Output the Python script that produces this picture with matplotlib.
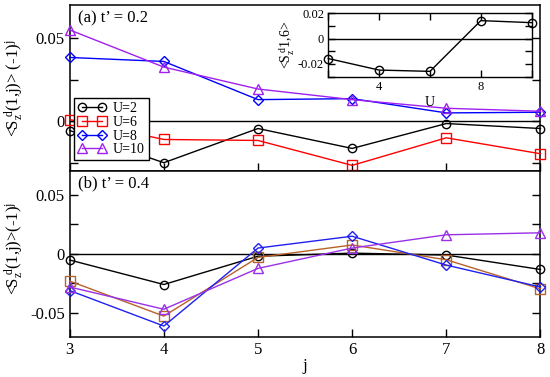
import matplotlib
matplotlib.use("Agg")
import matplotlib.pyplot as plt
from matplotlib.ticker import MultipleLocator

plt.rcParams["font.family"] = ["Liberation Serif", "DejaVu Serif"]
plt.rcParams["mathtext.fontset"] = "custom"
plt.rcParams["mathtext.rm"] = "Liberation Serif"
plt.rcParams["mathtext.it"] = "Liberation Serif:italic"

# site index j
j = [3, 4, 5, 6, 7, 8]

# panel (a) t' = 0.2
top_u2 = [-0.0056, -0.0250, -0.0044, -0.0164, -0.0014, -0.0044]
top_u6 = [0.0010, -0.0110, -0.0116, -0.0266, -0.0100, -0.0196]
top_u8 = [0.0384, 0.0360, 0.0130, 0.0136, 0.0050, 0.0054]
top_u10 = [0.0550, 0.0326, 0.0194, 0.0130, 0.0078, 0.0060]

# panel (b) t' = 0.4
bot_u2 = [-0.0052, -0.0259, -0.0020, 0.0006, -0.0010, -0.0132]
bot_u6 = [-0.0230, -0.0526, -0.0030, 0.0075, -0.0050, -0.0296]
bot_u8 = [-0.0310, -0.0610, 0.0049, 0.0149, -0.0095, -0.0280]
bot_u10 = [-0.0280, -0.0468, -0.0123, 0.0049, 0.0161, 0.0178]

# inset: <S_z^d 1,6> versus U
inset_u = [2, 4, 6, 8, 10]
inset_s16 = [-0.0157, -0.0248, -0.0258, 0.0142, 0.0126]

labels = ["U=2", "U=6", "U=8", "U=10"]
markers = ["o", "s", "D", "^"]
msizes = [6, 6.5, 5.5, 7]
top_colors = ["black", "#ff0000", "#0000ff", "#a020f0"]
bot_colors = ["black", "#b8622a", "#2020f0", "#9a30e8"]

fig = plt.figure(figsize=(5.5, 3.77), dpi=100)
ax1 = fig.add_axes([0.1267, 0.5464, 0.856, 0.4403])
ax2 = fig.add_axes([0.1267, 0.1069, 0.856, 0.4395])


def zero_fmt(v, p):
    return "0" if abs(v) < 1e-9 else f"{v:g}"


def draw(ax, series, colors):
    for ys, lab, m, ms, c in zip(series, labels, markers, msizes, colors):
        ax.plot(j, ys, color=c, lw=1.0, marker=m, ms=ms, mfc="none",
                mec=c, mew=1.0, label=lab, clip_on=False, zorder=3)
    ax.axhline(0, color="black", lw=1.0, zorder=2)
    ax.set_xlim(3, 8)
    ax.xaxis.set_major_locator(MultipleLocator(1))
    ax.yaxis.set_major_locator(MultipleLocator(0.05))
    ax.yaxis.set_minor_locator(MultipleLocator(0.025))
    ax.tick_params(which="both", direction="in", right=True, top=False,
                   length=6, width=1.0, labelsize=12)
    for s in ax.spines.values():
        s.set_linewidth(1.1)
    ax.yaxis.set_major_formatter(plt.FuncFormatter(zero_fmt))


draw(ax1, [top_u2, top_u6, top_u8, top_u10], top_colors)
draw(ax2, [bot_u2, bot_u6, bot_u8, bot_u10], bot_colors)

ax1.set_ylim(-0.03, 0.07)
ax1.tick_params(labelbottom=False)
ax2.set_ylim(-0.07, 0.07)
ax2.set_xlabel("j", fontsize=12, labelpad=0)

ax1.set_ylabel(r"<S$_\mathrm{z}^{\ \mathrm{d}}$(1,j)> (-1)$^\mathrm{j}$", fontsize=12)
ax2.set_ylabel(r"<S$_\mathrm{z}^{\ \mathrm{d}}$(1,j)>(-1)$^\mathrm{j}$", fontsize=12)
ax1.yaxis.set_label_coords(-0.092, 0.5)
ax2.yaxis.set_label_coords(-0.092, 0.53)

ax1.text(0.018, 0.97, "(a) t\u2019 = 0.2", transform=ax1.transAxes,
         fontsize=12, va="top", ha="left")
ax2.text(0.018, 0.975, "(b) t\u2019 = 0.4", transform=ax2.transAxes,
         fontsize=12, va="top", ha="left")

leg = ax1.legend(loc="upper left", bbox_to_anchor=(0.009, 0.44),
                 borderaxespad=0, numpoints=2, handlelength=2.0,
                 handletextpad=0.5, labelspacing=0.05, borderpad=0.3,
                 fontsize=10, fancybox=False, framealpha=1)
leg.get_frame().set_edgecolor("black")
leg.get_frame().set_linewidth(1.0)

# inset
axi = fig.add_axes([0.5969, 0.7966, 0.3698, 0.1682])
axi.plot(inset_u, inset_s16, color="black", lw=1.0, marker="o", ms=6,
         mfc="none", mec="black", mew=1.0, clip_on=False, zorder=3)
axi.axhline(0, color="black", lw=1.0)
axi.set_xlim(2, 10)
axi.set_ylim(-0.03, 0.02)
axi.xaxis.set_major_locator(MultipleLocator(4))
axi.xaxis.set_minor_locator(MultipleLocator(2))
axi.yaxis.set_major_locator(MultipleLocator(0.02))
axi.yaxis.set_minor_locator(MultipleLocator(0.01))
axi.tick_params(which="both", direction="in", top=True, right=True,
                length=5, width=1.0, labelsize=9, pad=3)
axi.yaxis.set_major_formatter(plt.FuncFormatter(zero_fmt))
for s in axi.spines.values():
    s.set_linewidth(1.0)
axi.set_xlabel("U", fontsize=10, labelpad=2)
axi.set_ylabel(r"<S$_\mathrm{z}^{\ \mathrm{d}}$1,6>", fontsize=10, labelpad=1)

fig.savefig("out.png", dpi=100)
